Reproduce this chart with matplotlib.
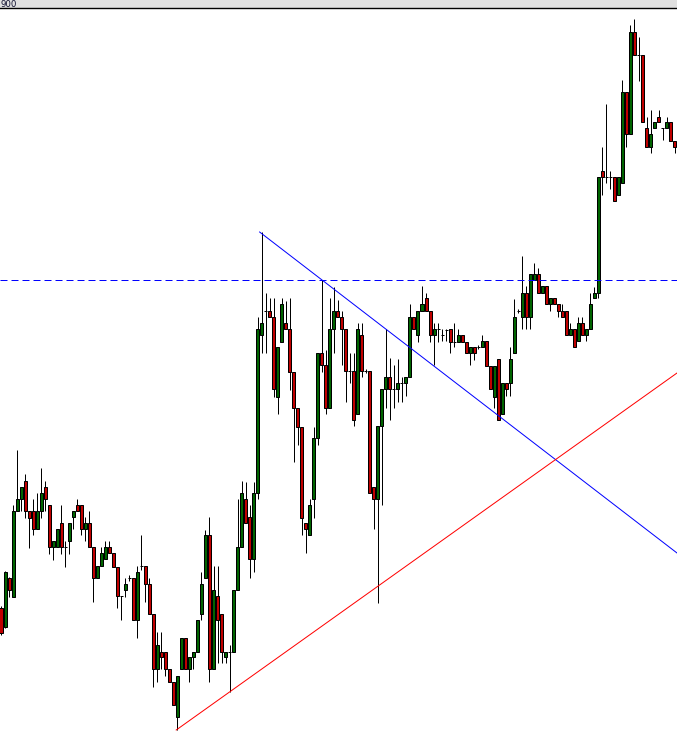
import matplotlib
matplotlib.use("Agg")
import matplotlib.pyplot as plt
from matplotlib.patches import Rectangle

# candle values (arbitrary price units, 1 unit = 1 px)
opens = [145, 126, 175, 156, 242, 254, 272, 242, 242, 224,
         242, 266, 248, 206, 206, 230, 206, 212, 236, 248,
         248, 224, 230, 206, 175, 187, 194, 206, 200, 186,
         157, 163, 175, 175, 133, 187, 187, 169, 139, 84,
         101, 101, 84, 71, 36, 84, 115, 84, 96, 101,
         139, 175, 218, 84, 157, 139, 96, 101, 101, 163,
         206, 254, 236, 194, 260, 418, 442, 442, 436, 356,
         411, 430, 424, 381, 345, 326, 230, 218, 254, 315,
         400, 388, 345, 424, 442, 436, 424, 382, 382, 339,
         418, 382, 382, 266, 254, 327, 364, 376, 364, 364,
         370, 370, 376, 436, 418, 442, 455, 442, 418, 424,
         418, 423, 424, 411, 411, 418, 411, 400, 406, 406,
         406, 412, 387, 356, 394, 339, 370, 370, 400, 442,
         436, 460, 436, 473, 479, 460, 467, 449, 455, 449,
         442, 442, 418, 424, 412, 430, 418, 424, 455, 460,
         582, 576, 576, 576, 558, 570, 661, 619, 721, 698,
         698, 625, 606, 625, 636, 625, 625, 631, 612]
closes = [120, 181, 163, 242, 254, 266, 242, 235, 224, 242,
          260, 254, 206, 212, 224, 206, 206, 230, 242, 242,
          224, 230, 206, 175, 187, 200, 206, 200, 186, 157,
          157, 169, 175, 133, 181, 187, 169, 139, 84, 108,
          96, 84, 71, 48, 77, 115, 84, 96, 101, 133,
          169, 218, 84, 163, 133, 101, 101, 101, 163, 206,
          260, 230, 194, 260, 424, 430, 442, 436, 364, 406,
          449, 424, 381, 345, 326, 235, 224, 248, 315, 400,
          388, 345, 424, 442, 436, 424, 382, 382, 333, 424,
          382, 382, 260, 254, 327, 364, 376, 364, 364, 370,
          370, 376, 436, 424, 442, 449, 442, 418, 424, 424,
          418, 423, 411, 411, 418, 411, 400, 406, 400, 406,
          412, 387, 364, 387, 333, 370, 364, 394, 436, 442,
          460, 436, 479, 479, 460, 467, 449, 455, 449, 442,
          436, 418, 424, 406, 430, 418, 424, 449, 460, 576,
          576, 576, 576, 552, 576, 661, 619, 721, 698, 698,
          631, 606, 619, 631, 631, 625, 631, 612, 606]
highs = [147, 182, 176, 248, 303, 266, 279, 242, 254, 260,
         285, 272, 248, 212, 224, 248, 212, 230, 242, 254,
         248, 236, 242, 206, 187, 206, 212, 212, 200, 186,
         157, 175, 178, 175, 187, 218, 187, 175, 139, 121,
         121, 101, 84, 71, 77, 115, 115, 96, 101, 133,
         181, 223, 236, 187, 187, 139, 101, 108, 163, 254,
         272, 271, 248, 271, 436, 521, 460, 455, 455, 406,
         455, 452, 455, 381, 345, 326, 230, 254, 326, 400,
         473, 403, 455, 466, 453, 442, 424, 400, 400, 430,
         430, 384, 382, 266, 327, 364, 424, 395, 388, 394,
         376, 376, 449, 436, 442, 467, 460, 442, 430, 430,
         424, 424, 424, 430, 424, 418, 411, 406, 406, 408,
         418, 412, 387, 387, 394, 370, 370, 406, 454, 444,
         497, 467, 479, 490, 485, 467, 467, 455, 455, 449,
         449, 442, 430, 424, 436, 436, 424, 460, 466, 576,
         606, 649, 582, 576, 576, 673, 661, 728, 734, 716,
         698, 636, 643, 631, 643, 625, 636, 631, 612]
lows = [118, 125, 156, 156, 242, 242, 235, 205, 218, 224,
        235, 242, 199, 193, 206, 199, 186, 199, 224, 242,
        218, 212, 206, 151, 175, 187, 194, 200, 186, 145,
        133, 156, 172, 133, 115, 183, 151, 139, 66, 71,
        84, 77, 71, 48, 23, 84, 84, 71, 84, 101,
        133, 175, 71, 84, 90, 90, 90, 61, 101, 163,
        206, 230, 175, 181, 254, 400, 400, 436, 356, 339,
        411, 424, 363, 291, 308, 218, 200, 218, 235, 308,
        381, 339, 345, 400, 436, 388, 351, 370, 327, 339,
        376, 380, 260, 224, 150, 248, 345, 333, 345, 351,
        351, 357, 376, 424, 411, 442, 442, 411, 388, 411,
        412, 412, 400, 406, 411, 411, 400, 388, 393, 404,
        406, 387, 364, 345, 333, 339, 357, 357, 400, 440,
        424, 424, 424, 473, 460, 460, 449, 442, 449, 436,
        436, 418, 418, 406, 412, 418, 412, 424, 455, 455,
        558, 570, 564, 552, 558, 570, 606, 619, 698, 672,
        631, 606, 600, 625, 631, 613, 625, 612, 600]

# drawn objects
level_line = 473
blue_trend = ([64.5, 168.6], [521, 200])
red_trend = ([43.7, 168.6], [23, 380])
header_text = "900"

W, H = 677, 753
fig = plt.figure(figsize=(W / 100, H / 100), dpi=100)
fig.patch.set_facecolor("white")

top_px = 9
ax = fig.add_axes([0, 0, 1, (H - top_px) / H])
ax.set_xlim(-0.25, 168.6)
ax.set_ylim(0, H - top_px)
ax.axis("off")

green = "#006400"
red = "#C00000"
bw = 0.75
lw = 0.72

n = len(opens)
ax.vlines(range(n), lows, highs, color="black", linewidth=lw, zorder=2)
for i in range(n):
    o, c = opens[i], closes[i]
    col = green if c > o else red
    ax.add_patch(Rectangle((i - bw / 2, min(o, c)), bw, abs(c - o),
                           facecolor=col, edgecolor="black", linewidth=lw, zorder=3))

ax.axhline(level_line, color="#0000FF", linewidth=lw, dashes=(7, 4), zorder=4)
ax.plot(blue_trend[0], blue_trend[1], color="#0000FF", linewidth=lw, zorder=4)
ax.plot(red_trend[0], red_trend[1], color="#FF0000", linewidth=lw, zorder=4)

# header strip
fig.patches.append(Rectangle((0, (H - 8) / H), 1, 8 / H, transform=fig.transFigure,
                             facecolor="#E0E0E0", edgecolor="none", zorder=0))
fig.lines.append(plt.Line2D([0, 1], [(H - 8) / H] * 2, transform=fig.transFigure,
                            color="black", linewidth=1.0))
fig.text(0.5 / W, (H - 7) / H, header_text, fontsize=6.2, color="#101030",
         ha="left", va="baseline")

fig.savefig("out.png", dpi=100)
